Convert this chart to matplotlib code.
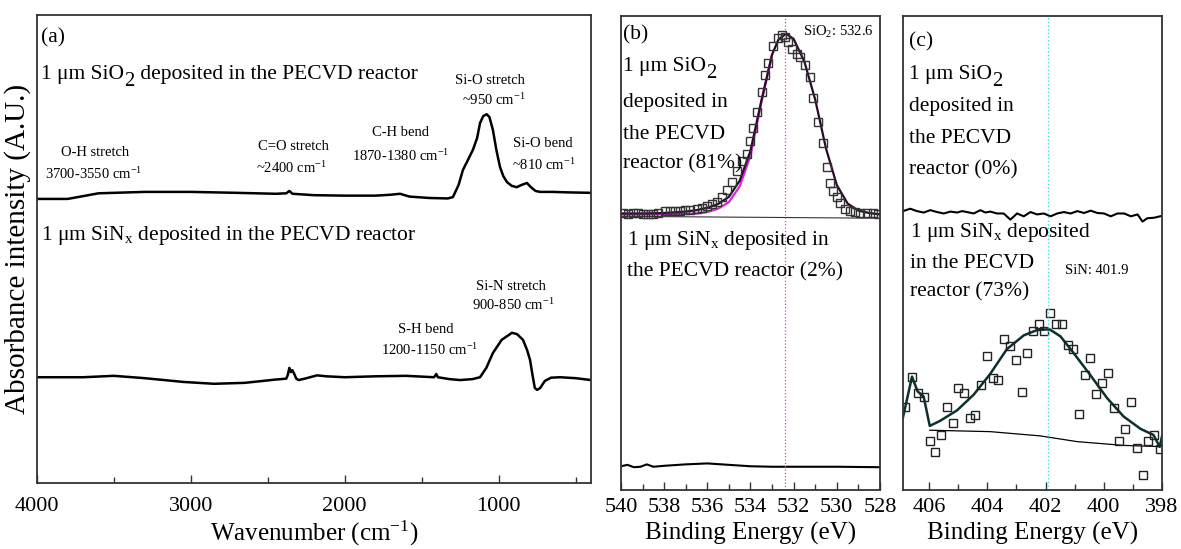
import matplotlib
matplotlib.use("Agg")
import matplotlib.pyplot as plt
from matplotlib.ticker import MultipleLocator

plt.rcParams['font.family'] = ['Liberation Serif', 'DejaVu Serif']
plt.rcParams['mathtext.fontset'] = 'custom'
plt.rcParams['mathtext.rm'] = 'Liberation Serif'
plt.rcParams['mathtext.it'] = 'Liberation Serif:italic'
plt.rcParams['mathtext.bf'] = 'Liberation Serif:bold'

# ---------------- Panel (a): FTIR ----------------
ftir_sio2_wn = [4000, 3800, 3700, 3600, 3300, 3000, 2700, 2450, 2380, 2360, 2340, 2200,
                2000, 1800, 1700, 1640, 1580, 1450, 1330, 1297, 1260, 1232, 1200, 1167,
                1140, 1121, 1100, 1078, 1060, 1037, 1015, 991, 970, 946, 915, 883, 850,
                816, 790, 760, 731, 650, 550, 400]
ftir_sio2_int = [60.7, 60.7, 61.3, 61.9, 62.2, 62.2, 62.0, 61.8, 61.9, 62.4, 61.8, 61.5,
                 61.4, 61.4, 61.6, 61.8, 61.2, 60.9, 60.8, 61.1, 63.7, 66.9, 69.0, 71.2,
                 73.7, 76.9, 78.4, 78.8, 78.2, 75.4, 71.2, 67.5, 65.6, 64.3, 63.5, 63.2, 63.7,
                 64.1, 63.2, 62.4, 62.2, 62.2, 62.1, 62.0]

ftir_sinx_wn = [4000, 3700, 3500, 3300, 3050, 2850, 2650, 2450, 2380, 2370, 2360, 2350, 2340,
                2328, 2315, 2300, 2260, 2180, 2120, 2000, 1800, 1600, 1420, 1405, 1395,
                1320, 1250, 1170, 1121, 1080, 1037, 980, 913, 880, 842, 815, 796, 780,
                765, 750, 730, 700, 660, 600, 500, 400]
ftir_sinx_int = [22.6, 22.6, 22.9, 22.4, 21.6, 21.2, 21.4, 22.1, 22.3, 23.1, 24.6, 23.7, 24.1,
                 23.3, 22.3, 22.0, 22.3, 23.0, 22.8, 22.6, 22.8, 22.9, 22.6, 23.3, 22.6,
                 22.2, 22.0, 22.2, 22.6, 24.6, 27.8, 30.6, 32.1, 31.8, 30.6, 28.4, 26.3, 23.1,
                 20.3, 19.9, 20.3, 21.8, 22.5, 22.6, 22.4, 22.0]

ftir_xticks = [4000, 3000, 2000, 1000]

# ---------------- Panel (b): O 1s XPS ----------------
o1s_be = [539.89, 539.66, 539.43, 539.20, 538.97, 538.73, 538.50, 538.27, 537.96, 537.73,
          537.50, 537.27, 537.03, 536.80, 536.49, 536.26, 536.03, 535.80, 535.57, 535.34,
          535.10, 534.87, 534.64, 534.41, 534.18, 534.02, 533.87, 533.71, 533.48, 533.33,
          533.17, 532.94, 532.71, 532.55, 532.40, 532.25, 532.09, 531.86, 531.71, 531.47,
          531.24, 531.09, 530.86, 530.65, 530.47, 530.32, 530.16, 530.01, 529.85, 529.62,
          529.39, 529.16, 528.92, 528.62, 528.31, 528.08]
o1s_sio2 = [58.3, 58.1, 58.4, 58.3, 58.1, 58.1, 58.1, 58.3, 58.8, 58.8,
            58.8, 58.8, 59.0, 59.0, 59.3, 59.5, 59.9, 60.3, 60.8, 61.7,
            63.2, 65.0, 67.2, 69.3, 70.9, 73.5, 76.4, 79.7, 84.0, 87.5,
            90.1, 93.7, 95.2, 95.9, 95.6, 94.5, 93.0, 91.9, 91.2, 89.7,
            87.0, 82.7, 77.6, 73.2, 68.0, 64.7, 63.0, 61.7, 60.6, 59.2,
            58.8, 58.6, 58.4, 58.3, 58.3, 58.1]

o1s_fit_be = [540.0, 539.0, 538.0, 537.0, 536.5, 536.0, 535.5, 535.0, 534.5, 534.0, 533.5,
              533.0, 532.7, 532.35, 532.0, 531.5, 531.0, 530.5, 530.0, 529.5, 529.0, 528.5, 528.0]
o1s_fit = [58.3, 58.3, 58.4, 58.7, 59.0, 59.5, 60.3, 61.8, 65.2, 71.5, 82.0,
           91.8, 95.0, 96.2, 95.1, 90.3, 82.3, 72.0, 64.3, 60.4, 58.9, 58.4, 58.1]
o1s_comp_be = [540.0, 539.0, 538.0, 537.0, 536.5, 536.0, 535.5, 535.0, 534.5, 534.0, 533.5, 533.0]
o1s_comp = [58.1, 58.1, 58.1, 58.2, 58.3, 58.6, 59.3, 60.7, 64.0, 70.5, 81.6, 91.7]
o1s_bg_be = [540.0, 528.0]
o1s_bg = [57.7, 57.3]

o1s_sinx_be = [540.0, 539.7, 539.4, 539.1, 538.8, 538.5, 538.0, 537.0, 536.0, 535.0,
               534.0, 533.0, 532.0, 530.0, 528.0]
o1s_sinx = [5.0, 5.3, 4.8, 4.9, 5.4, 4.9, 5.1, 5.4, 5.6, 5.3, 5.0, 4.9, 4.9, 4.9, 4.8]
sio2_peak = 532.4

# ---------------- Panel (c): N 1s XPS ----------------
n1s_be = [406.82, 406.59, 406.40, 406.19, 405.98, 405.79, 405.59, 405.39, 405.19, 405.00,
          404.80, 404.61, 404.41, 404.22, 404.01, 403.82, 403.62, 403.42, 403.22, 403.03,
          402.82, 402.63, 402.43, 402.24, 402.04, 401.84, 401.64, 401.45, 401.24, 401.05,
          400.85, 400.66, 400.46, 400.26, 400.06, 399.86, 399.66, 399.47, 399.26, 399.07,
          398.87, 398.66, 398.47, 398.28, 398.08]
n1s_sinx = [17.5, 23.9, 20.5, 19.6, 10.4, 8.0, 11.6, 17.5, 14.2, 21.4,
            20.4, 15.2, 15.8, 22.2, 28.2, 23.7, 23.2, 31.8, 30.3, 27.5,
            20.7, 28.8, 33.5, 35.1, 33.5, 37.4, 35.1, 35.1, 30.6, 29.7,
            16.1, 24.2, 27.8, 20.3, 22.5, 24.7, 17.3, 10.4, 12.9, 18.6,
            8.8, 3.2, 10.4, 11.6, 8.7]
n1s_fit_be = [406.90, 406.59, 406.40, 406.19, 405.98, 405.62, 405.04, 404.47, 403.90, 403.33,
              402.75, 402.30, 401.87, 401.49, 401.04, 400.46, 399.89, 399.32, 398.74, 398.29,
              398.08, 398.00]
n1s_fit = [15.3, 23.9, 20.8, 19.7, 13.5, 14.6, 16.8, 20.1, 24.5, 29.7,
           32.6, 33.7, 33.9, 32.4, 28.9, 24.2, 19.4, 15.5, 12.9, 11.6,
           9.1, 11.3]
n1s_bg_be = [405.98, 403.90, 402.18, 400.92, 399.32, 398.29, 398.08]
n1s_bg = [12.6, 12.3, 11.4, 10.2, 9.4, 9.2, 9.1]

n1s_sio2_be = [406.90, 406.65, 406.42, 406.19, 405.96, 405.73, 405.50, 405.27, 405.04, 404.87,
               404.70, 404.47, 404.24, 404.07, 403.90, 403.67, 403.44, 403.21, 402.98, 402.75,
               402.52, 402.29, 402.06, 401.83, 401.60, 401.37, 401.14, 400.91, 400.68, 400.45,
               400.22, 399.99, 399.76, 399.53, 399.30, 399.07, 398.84, 398.67, 398.50, 398.27,
               398.00]
n1s_sio2 = [58.8, 59.3, 58.8, 58.5, 59.0, 58.6, 58.3, 58.7, 58.5, 58.8,
            58.6, 58.3, 59.0, 58.5, 58.7, 58.3, 58.3, 57.0, 58.3, 57.7,
            58.6, 58.1, 58.3, 57.7, 58.3, 58.6, 58.3, 58.8, 58.4, 58.9,
            58.4, 58.3, 57.7, 58.3, 58.3, 57.7, 58.1, 56.6, 57.3, 57.4,
            57.8]
sin_peak = 401.9

# ---------------- Figure ----------------
fig = plt.figure(figsize=(11.81, 5.49), dpi=100)
ax_a = fig.add_axes([0.0313, 0.1202, 0.4691, 0.8525])
ax_b = fig.add_axes([0.5258, 0.1075, 0.2193, 0.8639])
ax_c = fig.add_axes([0.7646, 0.1075, 0.2193, 0.8639])

spine_col = '#333333'
for ax in (ax_a, ax_b, ax_c):
    for s in ax.spines.values():
        s.set_color(spine_col)
        s.set_linewidth(1.3)
    ax.set_yticks([])
    ax.tick_params(axis='x', which='both', direction='in', labelsize=16, color=spine_col, pad=6)
    ax.tick_params(axis='x', which='major', length=6, width=1.0)
    ax.tick_params(axis='x', which='minor', length=4, width=1.0)
    ax.set_ylim(0, 100)
ax_a.tick_params(axis='x', which='both', pad=10)

big = 15.5
small = 10.5


def sio2_text(ax, x, y, prefix, suffix=''):
    """Text with a full-size, lowered '2' as in the original figure."""
    t1 = ax.text(x, y, prefix + 'SiO', fontsize=big, va='center', ha='left')
    t2 = ax.annotate('2', xy=(1, 0), xycoords=t1, fontsize=big * 0.95,
                     ha='left', va='bottom', xytext=(0.5, -5), textcoords='offset points')
    if suffix:
        ax.annotate(suffix, xy=(1, 0), xycoords=(t2, t1), fontsize=big,
                    ha='left', va='bottom', xytext=(0, 0), textcoords='offset points')


# Panel (a)
ax_a.plot(ftir_sio2_wn, ftir_sio2_int, color='black', lw=1.8)
ax_a.plot(ftir_sinx_wn, ftir_sinx_int, color='black', lw=1.8)
ax_a.set_xlim(4000, 400)
ax_a.set_xticks(ftir_xticks)
ax_a.xaxis.set_minor_locator(MultipleLocator(500))
ax_a.set_xlabel('Wavenumber (cm$^{-1}$)', fontsize=18, labelpad=2)
ax_a.set_ylabel('Absorbance intensity (A.U.)', fontsize=21)
ax_a.yaxis.set_label_coords(-0.011, 0.50)

ax_a.text(3975, 95.1, '(a)', fontsize=big, va='center', ha='left')
sio2_text(ax_a, 3975, 87.2, '1 \u03bcm ', ' deposited in the PECVD reactor')
ax_a.text(3975, 52.9, '1 \u03bcm SiN$_{\\rm x}$ deposited in the PECVD reactor', fontsize=big,
          va='center', ha='left')
ann = [
    (1058, 85.9, 'Si-O stretch'), (1033, 81.9, '~950 cm$^{-1}$'),
    (3622, 70.7, 'O-H stretch'), (3629, 66.0, '3700-3550 cm$^{-1}$'),
    (2331, 72.0, 'C=O stretch'), (2344, 67.3, '~2400 cm$^{-1}$'),
    (1638, 74.8, 'C-H bend'), (1638, 69.8, '1870-1380 cm$^{-1}$'),
    (713, 72.6, 'Si-O bend'), (705, 67.9, '~810 cm$^{-1}$'),
    (920, 41.9, 'Si-N stretch'), (907, 38.0, '900-850 cm$^{-1}$'),
    (1474, 32.7, 'S-H bend'), (1449, 28.4, '1200-1150 cm$^{-1}$'),
]
for x, y, t in ann:
    ax_a.text(x, y, t, fontsize=small, ha='center', va='center')

# Panel (b)
ax_b.plot(o1s_comp_be, o1s_comp, color='#e020e0', lw=1.6)
ax_b.plot(o1s_fit_be, o1s_fit, color='#2a0a2a', lw=1.6)
ax_b.plot(o1s_bg_be, o1s_bg, color='#333333', lw=0.8)
ax_b.plot(o1s_be, o1s_sio2, ls='none', marker='s', ms=6, mfc='none', mec='#333333', mew=1.0)
ax_b.plot(o1s_sinx_be, o1s_sinx, color='black', lw=1.5)
ax_b.axvline(sio2_peak, color='#d040d0', lw=0.9, ls=':')
ax_b.set_xlim(540, 528)
ax_b.xaxis.set_major_locator(MultipleLocator(2))
ax_b.xaxis.set_minor_locator(MultipleLocator(1))
ax_b.set_xlabel('Binding Energy (eV)', fontsize=18, labelpad=3)

ax_b.text(539.92, 96.0, '(b)', fontsize=big, va='center', ha='left')
sio2_text(ax_b, 539.92, 89.3, '1 \u03bcm ')
for y, t in [(81.6, 'deposited in'), (75.0, 'the PECVD'), (68.7, 'reactor (81%)')]:
    ax_b.text(539.92, y, t, fontsize=big, va='center', ha='left')
ax_b.text(539.74, 52.5, '1 \u03bcm SiN$_{\\rm x}$ deposited in', fontsize=big, va='center', ha='left')
ax_b.text(539.74, 45.9, 'the PECVD reactor (2%)', fontsize=big, va='center', ha='left')
ax_b.text(531.55, 96.5, 'SiO$_2$: 532.6', fontsize=small, va='center', ha='left')

# Panel (c)
ax_c.plot(n1s_sio2_be, n1s_sio2, color='black', lw=1.5)
ax_c.plot(n1s_bg_be, n1s_bg, color='black', lw=0.9)
ax_c.plot(n1s_fit_be, n1s_fit, color='#0a3030', lw=1.8)
ax_c.plot(n1s_be, n1s_sinx, ls='none', marker='s', ms=6, mfc='none', mec='#222222', mew=1.0)
ax_c.axvline(sin_peak, color='#40e0e8', lw=1.0, ls=':')
ax_c.set_xlim(406.9, 398)
ax_c.xaxis.set_major_locator(MultipleLocator(2))
ax_c.xaxis.set_minor_locator(MultipleLocator(1))
ax_c.set_xlabel('Binding Energy (eV)', fontsize=18, labelpad=3)

ax_c.text(406.7, 94.5, '(c)', fontsize=big, va='center', ha='left')
sio2_text(ax_c, 406.7, 87.5, '1 \u03bcm ')
for y, t in [(80.9, 'deposited in'), (74.2, 'the PECVD'), (67.6, 'reactor (0%)')]:
    ax_c.text(406.7, y, t, fontsize=big, va='center', ha='left')
for y, t in [(54.3, '1 \u03bcm SiN$_{\\rm x}$ deposited'), (47.7, 'in the PECVD'),
             (41.8, 'reactor (73%)')]:
    ax_c.text(406.65, y, t, fontsize=big, va='center', ha='left')
ax_c.text(401.32, 46.2, 'SiN: 401.9', fontsize=small, va='center', ha='left')

fig.savefig('out.png', dpi=100)
